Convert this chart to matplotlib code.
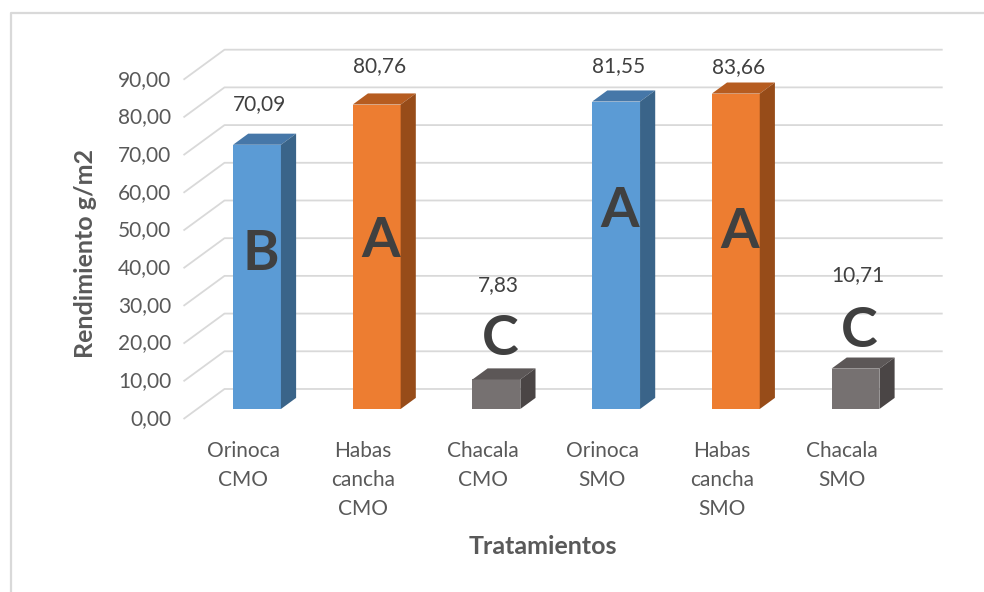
import matplotlib.pyplot as plt
from matplotlib.patches import Polygon, Rectangle
from matplotlib.lines import Line2D

plt.rcParams['font.family'] = ['Lato', 'DejaVu Sans']

# data
tratamientos = ['Orinoca\nCMO', 'Habas\ncancha\nCMO', 'Chacala\nCMO',
                'Orinoca\nSMO', 'Habas\ncancha\nSMO', 'Chacala\nSMO']
rendimiento = [70.09, 80.76, 7.83, 81.55, 83.66, 10.71]
letras = ['B', 'A', 'C', 'A', 'A', 'C']
yticks = [0, 10, 20, 30, 40, 50, 60, 70, 80, 90]

# colours per variety (front, top, side)
colores = [
    ('#5B9BD5', '#4677A8', '#3A6489'),
    ('#ED7D31', '#B65C20', '#974C19'),
    ('#767171', '#5C5757', '#4A4545'),
] * 2

# where the big letters sit (value units) and extra lift of the value labels
letra_y = [41, 44.5, 18.5, 52.5, 47, 20.8]
etiqueta_y = [10.8, 10.2, 25.0, 9.4, 7.0, 24.8]

# pseudo-3d layout
W = 0.40          # bar width (category units)
DX, DY = 0.3425, 7.96   # full floor depth vector
F, B = -0.333, 0.667    # floor front / back wall, relative to bar front
BD = 0.37               # bar depth
X0, X1 = -0.5, 5.5

fig = plt.figure(figsize=(9.84, 5.92), dpi=100)
ax = fig.add_axes([0, 0, 1, 1])
ax.set_xlim(-257 / 119.7, (984 - 257) / 119.7)
ax.set_ylim(-(592 - 409) / 3.77, 409 / 3.77)
ax.axis('off')

grid_c = '#D9D9D9'
for v in yticks:
    ax.plot([X0 + F * DX, X0 + B * DX, X1 + B * DX],
            [v + F * DY, v + B * DY, v + B * DY],
            color=grid_c, lw=1.3, zorder=1, solid_capstyle='butt')
    ax.text(X0 + F * DX - 0.1, v + F * DY, f'{v:.2f}'.replace('.', ','),
            ha='right', va='center', fontsize=15, color='#595959')

for i, (v, (cf, ct, cs)) in enumerate(zip(rendimiento, colores)):
    l, r = i - W / 2, i + W / 2
    ax.add_patch(Rectangle((l, 0), W, v, facecolor=cf, edgecolor='none', zorder=3))
    ax.add_patch(Polygon([(l, v), (r, v), (r + BD * DX, v + BD * DY),
                          (l + BD * DX, v + BD * DY)],
                         facecolor=ct, edgecolor='none', zorder=3))
    ax.add_patch(Polygon([(r, 0), (r + BD * DX, BD * DY),
                          (r + BD * DX, v + BD * DY), (r, v)],
                         facecolor=cs, edgecolor='none', zorder=3))
    ax.text(i + 0.02, v + etiqueta_y[i], f'{v:.2f}'.replace('.', ','),
            ha='center', va='center', fontsize=15, color='#404040', zorder=5)
    ax.text(i + 0.03, letra_y[i], letras[i], ha='center', va='center',
            fontsize=40, fontweight='bold', color='#404040', zorder=5)
    ax.text(i + F * DX, -8.6, tratamientos[i], ha='center', va='top',
            fontsize=15, color='#595959', linespacing=1.55)

ax.text((543 - 257) / 119.7, -(547 - 409) / 3.77, 'Tratamientos',
        ha='center', va='center', fontsize=18, fontweight='bold', color='#595959')
ax.text((85 - 257) / 119.7, (409 - 254) / 3.77, 'Rendimiento g/m2',
        ha='center', va='center', rotation=90, fontsize=18,
        fontweight='bold', color='#595959')

# chart border
bx, by = 11 / 984, 1 - 13 / 592
fig.add_artist(Line2D([bx, bx, 1.01], [-0.01, by, by], color='#D9D9D9', lw=1.6))

fig.savefig('out.png', dpi=100)
